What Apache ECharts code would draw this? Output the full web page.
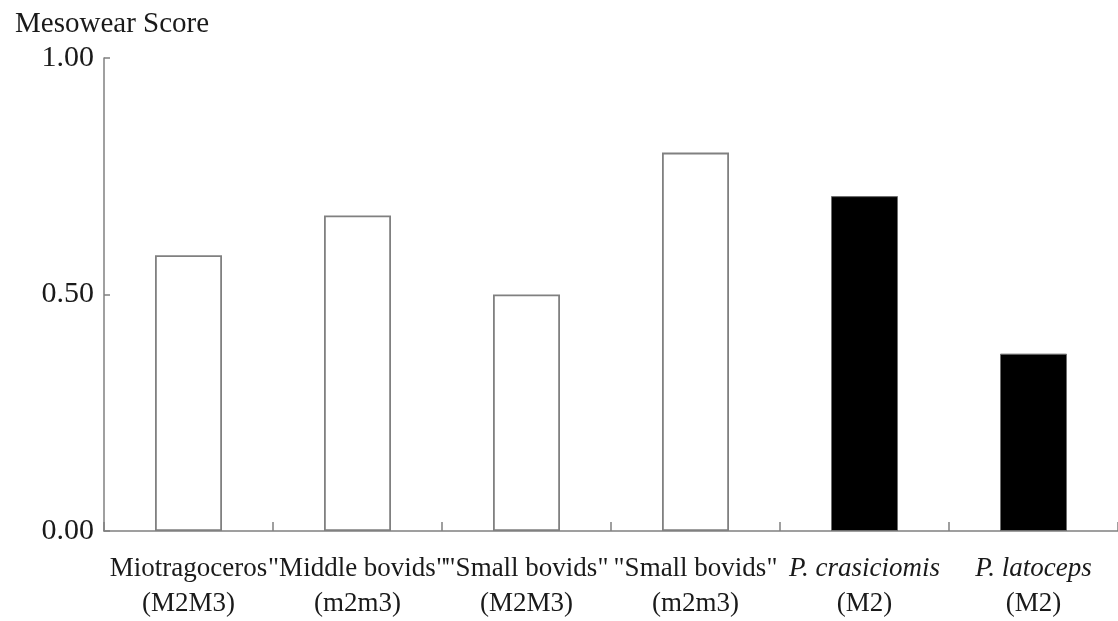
<!DOCTYPE html>
<html>
<head>
<meta charset="utf-8">
<script src="https://cdn.jsdelivr.net/npm/echarts@6/dist/echarts.min.js"></script>
<style>
  html, body { margin: 0; padding: 0; background: #fff; }
  #chart { width: 1118px; height: 621px; }
</style>
</head>
<body>
<div id="chart"></div>
<script>
// Taxa names (first label line), tooth positions (second line)
const taxa = ['Miotragoceros', '"Middle bovids"', '"Small bovids"', '"Small bovids"', 'P. crasiciomis', 'P. latoceps'];
const teeth = ['(M2M3)', '(m2m3)', '(M2M3)', '(m2m3)', '(M2)', '(M2)'];
const italicTaxa = [false, false, false, false, true, true];
// Mesowear score per group
const scores = [0.583, 0.667, 0.50, 0.80, 0.708, 0.375];
// Filled bars mark the Pachytragus samples
const filled = [false, false, false, false, true, true];
const yTicks = [0, 0.5, 1.0];

const serif = '"Liberation Serif", "Times New Roman", serif';
const axisGray = '#808080';
const ink = '#1a1a1a';

const categories = taxa.map((t, i) => i);

const chart = echarts.init(document.getElementById('chart'), null, { renderer: 'canvas' });

chart.setOption({
  backgroundColor: '#ffffff',
  animation: false,
  title: {
    text: 'Mesowear Score',
    left: 10,
    top: 5,
    textStyle: { fontFamily: serif, fontSize: 29, fontWeight: 'normal', color: ink }
  },
  grid: { left: 104, right: -5, top: 58, bottom: 88, containLabel: false },
  xAxis: {
    type: 'category',
    data: categories,
    boundaryGap: true,
    axisLine: { show: true, lineStyle: { color: axisGray, width: 1.5 } },
    axisTick: { show: true, inside: true, alignWithLabel: false, interval: 0, length: 9, lineStyle: { color: axisGray, width: 1.5 } },
    axisLabel: {
      interval: 0,
      margin: 20,
      lineHeight: 35,
      formatter: function (v) {
        const i = Number(v);
        const top = italicTaxa[i] ? '{it|' + taxa[i] + '}' : '{rm|' + taxa[i] + '}';
        return top + '\n{rm|' + teeth[i] + '}';
      },
      rich: {
        rm: { fontFamily: serif, fontSize: 27, color: ink, lineHeight: 35 },
        it: { fontFamily: serif, fontSize: 27, fontStyle: 'italic', color: ink, lineHeight: 35 }
      }
    }
  },
  yAxis: {
    type: 'value',
    min: yTicks[0],
    max: yTicks[yTicks.length - 1],
    interval: yTicks[1] - yTicks[0],
    splitLine: { show: false },
    axisLine: { show: true, lineStyle: { color: axisGray, width: 1.5 } },
    axisTick: { show: true, inside: true, length: 6, lineStyle: { color: axisGray, width: 1.5 } },
    axisLabel: {
      margin: 10,
      fontFamily: serif,
      fontSize: 30,
      color: ink,
      formatter: v => v.toFixed(2)
    }
  },
  series: [{
    type: 'bar',
    barWidth: 67,
    data: scores.map((s, i) => ({
      value: s,
      itemStyle: filled[i]
        ? { color: '#000000', borderColor: '#6e6e6e', borderWidth: 1 }
        : { color: '#ffffff', borderColor: axisGray, borderWidth: 1.8 }
    }))
  }]
});
</script>
</body>
</html>
